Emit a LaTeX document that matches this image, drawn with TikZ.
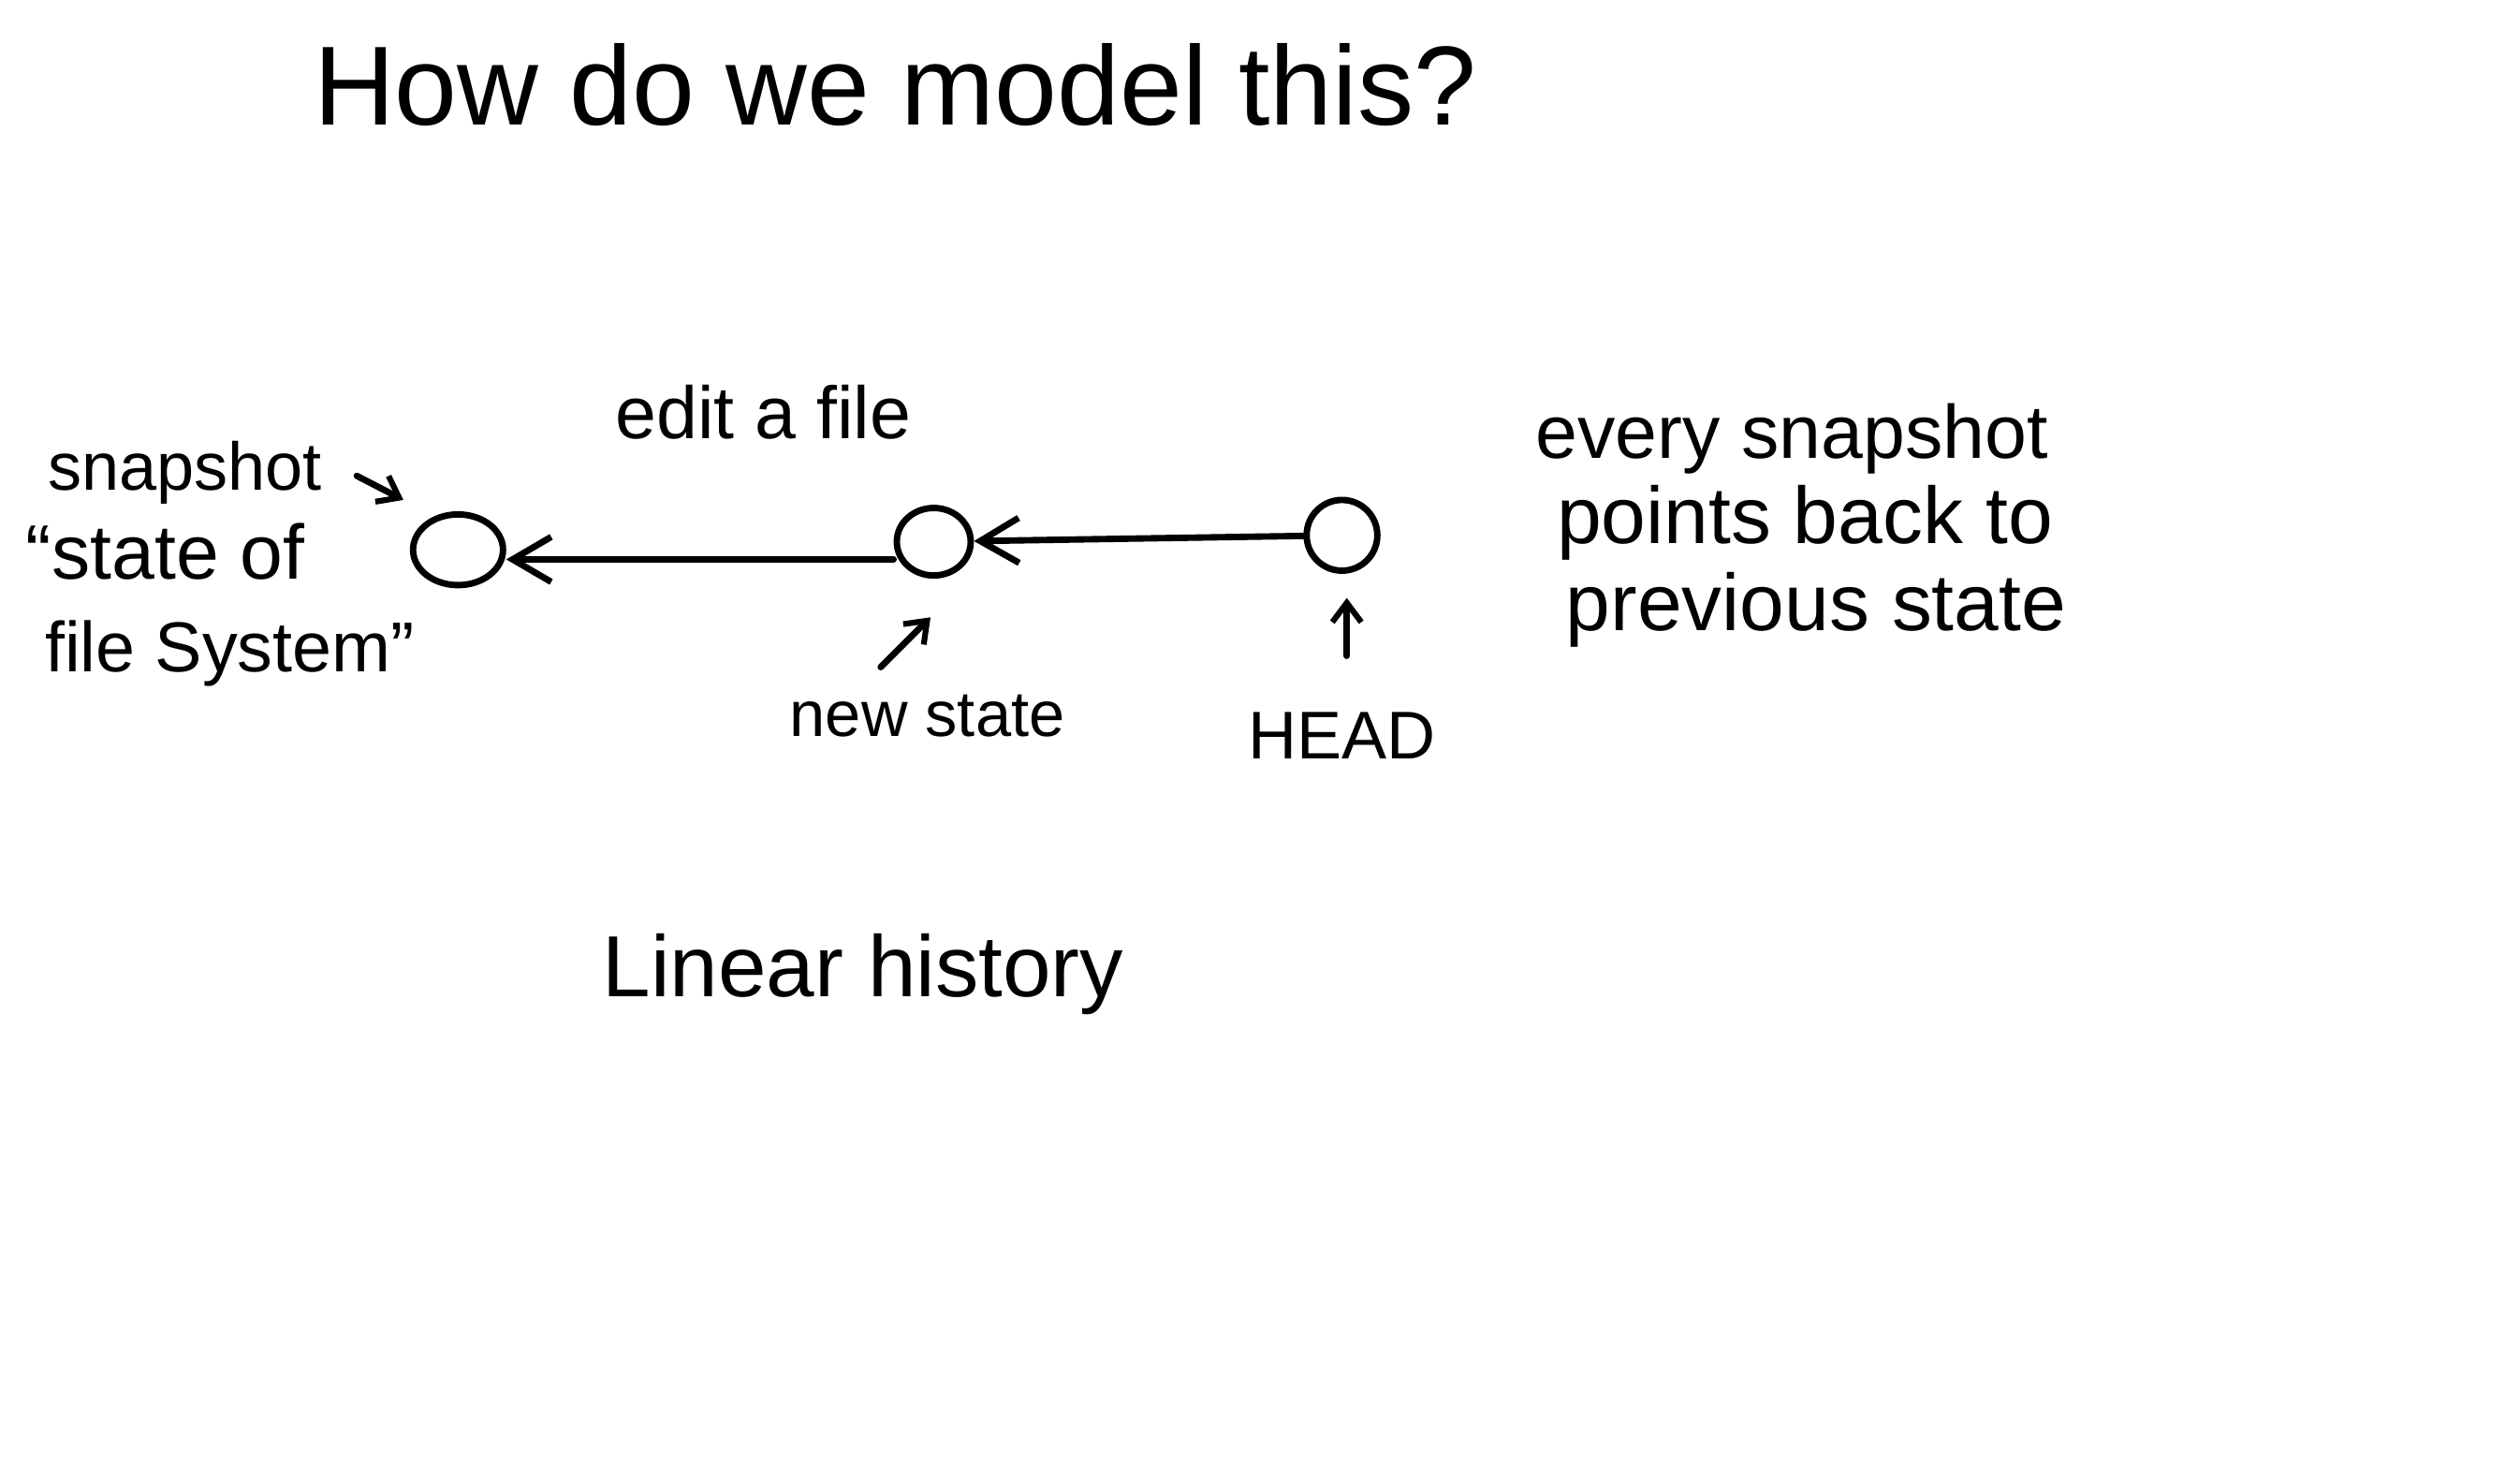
\documentclass[tikz,border=0pt]{standalone}
\usepackage{fontspec}
\setmainfont{Liberation Sans}
\usetikzlibrary{arrows.meta,shapes.geometric}
\tikzset{
  pen/.style={line width=4pt, line cap=round, line join=round, black},
  snap/.style={draw, pen, ellipse, inner sep=0pt},
  hand/.style={inner sep=0pt, anchor=base, font=\fontsize{#1}{#1}\selectfont},
  barb/.style={-{Straight Barb[length=24pt,width=28pt,line width=4pt]}},
  smallbarb/.style={-{Straight Barb[length=12pt,width=18pt,line width=3.6pt]}}
}
\begin{document}
\begin{tikzpicture}[x=1pt,y=-1pt]
\useasboundingbox (0,0) rectangle (1568,914);
% title
\node[hand=70pt] (title) at (557,78) {How do we model this?};
% snapshots
\node[snap, minimum width=56pt, minimum height=44pt] (c1) at (285,342) {};
\node[snap, minimum width=46pt, minimum height=42pt] (c2) at (581,337) {};
\node[snap, minimum width=44pt, minimum height=44pt] (c3) at (835,333) {};
\draw[pen, barb] (c2.west |- 0,348) -- (c1.east |- 0,348);
\draw[pen, barb] (c3) -- (c2);
% labels
\node[hand=46pt] (edit) at (475,273) {edit a file};
\node[hand=42pt] (snapshot) at (115,305) {snapshot};
\node[hand=48pt] (stateof) at (103,360) {“state of};
\node[hand=44pt] (filesys) at (143,418) {file System”};
\node[hand=40pt] (newstate) at (577,458) {new state};
\node[hand=42pt] (head) at (835,472) {HEAD};
\node[hand=47pt] (every) at (1115,285) {every snapshot};
\node[hand=50pt] (points) at (1123,338) {points back to};
\node[hand=50pt] (prev) at (1130,392) {previous state};
\node[hand=54pt] (linear) at (537,620) {Linear history};
% annotation arrows
\coordinate (s0) at (222,296);
\coordinate (s1) at (251,311);
\draw[pen, smallbarb] (s0) -- (s1);
\coordinate (n0) at (548,415);
\coordinate (n1) at (579,384);
\draw[pen, smallbarb] (n0) -- (n1);
\coordinate (h0) at (838,408);
\coordinate (h1) at (838,372);
\draw[pen, smallbarb] (h0) -- (h1);
\end{tikzpicture}
\end{document}
